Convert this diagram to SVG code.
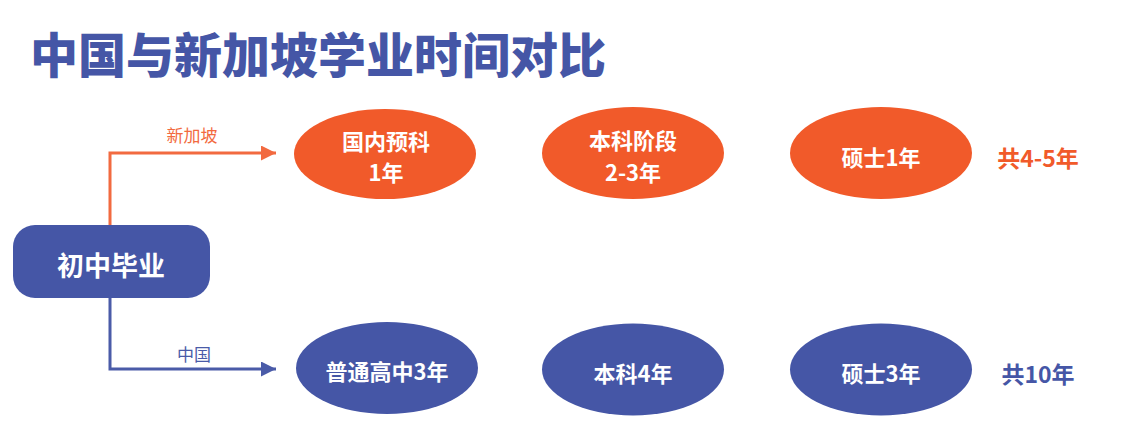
<svg xmlns="http://www.w3.org/2000/svg" width="1129" height="436" viewBox="0 0 1129 436">
<defs>
<style>
text{font-family:"Noto Sans CJK SC","Noto Sans",sans-serif;text-anchor:middle;dominant-baseline:central}
.or{fill:#F15A2A}
.bl{fill:#4556A6}
.nt{fill:#fff;font-weight:bold;font-size:22px}
.tot{font-weight:bold;font-size:23px}
.lab{font-size:17px}
</style>
<marker id="ao" viewBox="0 0 10 10" refX="10" refY="5" markerWidth="17" markerHeight="15" markerUnits="userSpaceOnUse" orient="auto"><path d="M0,0L10,5L0,10z" fill="#F26A40"/></marker>
<marker id="ab" viewBox="0 0 10 10" refX="10" refY="5" markerWidth="17" markerHeight="15" markerUnits="userSpaceOnUse" orient="auto"><path d="M0,0L10,5L0,10z" fill="#4A5BA8"/></marker>
</defs>
<rect width="1129" height="436" fill="#fff"/>
<text x="318" y="52" class="bl" style="font-size:48px;font-weight:900">中国与新加坡学业时间对比</text>
<g id="connectors">
<path d="M110,225V153H276" fill="none" stroke="#F26A40" stroke-width="3" marker-end="url(#ao)"/>
<path d="M110,298V369H276" fill="none" stroke="#4A5BA8" stroke-width="3" marker-end="url(#ab)"/>
<text x="192" y="134" class="lab" fill="#F26A40">新加坡</text>
<text x="194" y="353" class="lab" fill="#4A5BA8">中国</text>
</g>
<g id="start"><rect x="13" y="225" width="197" height="73" rx="22" class="bl"/><text x="111" y="264" class="nt" style="font-size:27px">初中毕业</text></g>
<g id="sg1"><ellipse cx="385" cy="154" rx="91" ry="45" class="or"/><text x="386" y="140" class="nt">国内预科</text><text x="386" y="171" class="nt">1年</text></g>
<g id="sg2"><ellipse cx="633" cy="153" rx="91" ry="46" class="or"/><text x="633" y="139" class="nt">本科阶段</text><text x="633" y="171" class="nt">2-3年</text></g>
<g id="sg3"><ellipse cx="881" cy="153" rx="91" ry="46" class="or"/><text x="881" y="156" class="nt">硕士1年</text></g>
<g id="sgt"><text x="1038" y="157" class="tot or">共4-5年</text></g>
<g id="cn1"><ellipse cx="387" cy="368" rx="91" ry="46" class="bl"/><text x="387" y="370" class="nt">普通高中3年</text></g>
<g id="cn2"><ellipse cx="633" cy="369.5" rx="91" ry="46" class="bl"/><text x="633" y="372" class="nt">本科4年</text></g>
<g id="cn3"><ellipse cx="881" cy="369.5" rx="91" ry="46" class="bl"/><text x="881" y="372" class="nt">硕士3年</text></g>
<g id="cnt"><text x="1038" y="373" class="tot bl">共10年</text></g>
</svg>
